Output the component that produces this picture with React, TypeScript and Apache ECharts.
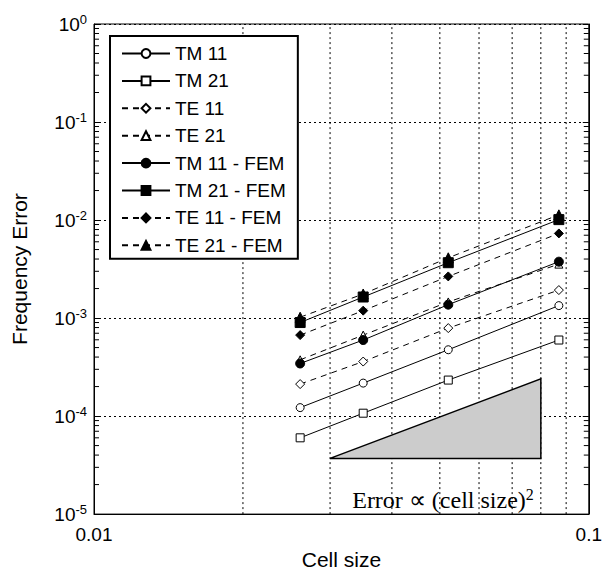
import React, { useEffect, useRef } from "react";
import * as echarts from "echarts";

const cellSizes = [0.0261, 0.035, 0.052, 0.087];
const tm11 = [1.22e-4, 2.17e-4, 4.75e-4, 1.34e-3];
const tm21 = [6.0e-5, 1.07e-4, 2.33e-4, 5.97e-4];
const te11 = [2.12e-4, 3.6e-4, 7.9e-4, 1.93e-3];
const te21 = [3.75e-4, 6.7e-4, 1.46e-3, 3.55e-3];
const tm11Fem = [3.44e-4, 5.97e-4, 1.37e-3, 3.76e-3];
const tm21Fem = [9.0e-4, 1.64e-3, 3.67e-3, 1.01e-2];
const te11Fem = [6.7e-4, 1.19e-3, 2.66e-3, 7.3e-3];
const te21Fem = [1.02e-3, 1.76e-3, 4.12e-3, 1.13e-2];

const seriesNames = [
  "TM 11",
  "TM 21",
  "TE 11",
  "TE 21",
  "TM 11 - FEM",
  "TM 21 - FEM",
  "TE 11 - FEM",
  "TE 21 - FEM",
];

const xGridValues = [0.02, 0.03, 0.04, 0.05, 0.06, 0.07, 0.08, 0.09];
const yDecades = [1e-5, 1e-4, 1e-3, 1e-2, 1e-1];
const yMinorMantissas = [2, 3, 4, 5, 6, 7, 8, 9];

const triX = [0.03, 0.08];
const triY = [3.7e-5, 2.4e-4];

const annotation = "Error \u221D (cell size)";

const SANS = '"Liberation Sans", Arial, sans-serif';
const SERIF = '"Liberation Serif", "Times New Roman", serif';

export default function App() {
  const ref = useRef<HTMLDivElement>(null);

  useEffect(() => {
    document.body.style.margin = "0";
    if (!ref.current) return;
    const chart = echarts.init(ref.current, undefined, { renderer: "svg" });

    const pairs = (ys: number[]) => cellSizes.map((x, i) => [x, ys[i]]);
    const dashed = [6, 5];

    const mk = (
      name: string,
      ys: number[],
      symbol: string,
      size: number,
      filled: boolean,
      dash: boolean
    ) => ({
      name,
      type: "line",
      data: pairs(ys),
      symbol,
      symbolSize: size,
      showSymbol: true,
      lineStyle: { color: "#000", width: 1, type: dash ? dashed : "solid" },
      itemStyle: {
        color: filled ? "#000" : "#fff",
        borderColor: "#000",
        borderWidth: 1,
      },
      z: 5,
    });

    const minorY: number[][] = [];
    yDecades.forEach((d) =>
      yMinorMantissas.forEach((m) => minorY.push([0.05, d * m]))
    );

    const option: any = {
      animation: false,
      backgroundColor: "#fff",
      grid: {
        left: 94,
        top: 24,
        width: 502,
        height: 501,
        show: true,
        borderColor: "#000",
        borderWidth: 1,
        backgroundColor: "transparent",
      },
      legend: {
        data: seriesNames,
        orient: "vertical",
        left: 110,
        top: 36,
        backgroundColor: "#fff",
        borderColor: "#000",
        borderWidth: 2,
        padding: [8, 12, 4, 11],
        itemWidth: 48,
        itemHeight: 11,
        itemGap: 8.4,
        textStyle: {
          fontFamily: SANS,
          fontSize: 19,
          lineHeight: 19,
          color: "#000",
        },
        selectedMode: false,
      },
      xAxis: {
        type: "log",
        logBase: 10,
        min: 0.01,
        max: 0.1,
        name: "Cell size",
        nameLocation: "middle",
        nameGap: 28,
        nameTextStyle: { fontFamily: SANS, fontSize: 21, color: "#000" },
        axisLine: { show: true, lineStyle: { color: "#000", width: 1 } },
        axisTick: { show: false },
        splitLine: { show: false },
        axisLabel: {
          fontFamily: SANS,
          fontSize: 19,
          color: "#000",
          margin: 11,
          formatter: (v: number) => String(+v.toPrecision(3)),
        },
      },
      yAxis: [
        {
          type: "log",
          logBase: 10,
          min: 1e-5,
          max: 1,
          name: "Frequency Error",
          nameLocation: "middle",
          nameGap: 64,
          nameTextStyle: { fontFamily: SANS, fontSize: 21, color: "#000" },
          axisLine: { show: true, lineStyle: { color: "#000", width: 1 } },
          axisTick: { show: true, inside: true, length: 6, lineStyle: { color: "#000" } },
          splitLine: {
            show: true,
            lineStyle: { color: "#000", width: 1, type: [2, 3] },
          },
          axisLabel: {
            margin: 7,
            color: "#000",
            formatter: (v: number) => {
              const e = Math.round(Math.log10(v));
              return "{b|10}{s|" + e + "}";
            },
            rich: {
              b: { fontFamily: SANS, fontSize: 19, color: "#000" },
              s: {
                fontFamily: SANS,
                fontSize: 13,
                color: "#000",
                padding: [0, 0, 9, 0],
              },
            },
          },
        },
        {
          type: "log",
          logBase: 10,
          min: 1e-5,
          max: 1,
          position: "right",
          axisLine: { show: true, lineStyle: { color: "#000", width: 1 } },
          axisTick: { show: true, inside: true, length: 6, lineStyle: { color: "#000" } },
          splitLine: { show: false },
          axisLabel: { show: false },
        },
      ],
      series: [
        {
          name: "xgrid",
          type: "custom",
          silent: true,
          z: 1,
          data: xGridValues.map((v) => [v, 1e-3]),
          renderItem: (_p: any, api: any) => {
            const v = api.value(0);
            const a = api.coord([v, 1e-5]);
            const b = api.coord([v, 1]);
            return {
              type: "line",
              shape: { x1: a[0], y1: a[1], x2: b[0], y2: b[1] },
              style: { stroke: "#000", lineWidth: 1, lineDash: [2, 3] },
            };
          },
        },
        {
          name: "yminor",
          type: "custom",
          silent: true,
          z: 1,
          data: minorY,
          renderItem: (_p: any, api: any) => {
            const v = api.value(1);
            const l = api.coord([0.01, v]);
            const r = api.coord([0.1, v]);
            return {
              type: "group",
              children: [
                {
                  type: "line",
                  shape: { x1: l[0], y1: l[1], x2: l[0] + 5, y2: l[1] },
                  style: { stroke: "#000", lineWidth: 1 },
                },
                {
                  type: "line",
                  shape: { x1: r[0], y1: r[1], x2: r[0] - 5, y2: r[1] },
                  style: { stroke: "#000", lineWidth: 1 },
                },
              ],
            };
          },
        },
        {
          name: "slope",
          type: "custom",
          silent: true,
          z: 3,
          data: [[triX[0], triY[0]]],
          renderItem: (_p: any, api: any) => {
            const p1 = api.coord([triX[0], triY[0]]);
            const p2 = api.coord([triX[1], triY[1]]);
            const p3 = api.coord([triX[1], triY[0]]);
            return {
              type: "polygon",
              shape: { points: [p1, p2, p3] },
              style: { fill: "#cccccc", stroke: "#000", lineWidth: 1.5 },
            };
          },
        },
        mk(seriesNames[0], tm11, "circle", 8, false, false),
        mk(seriesNames[1], tm21, "rect", 8, false, false),
        mk(seriesNames[2], te11, "diamond", 9, false, true),
        mk(seriesNames[3], te21, "triangle", 8, false, true),
        mk(seriesNames[4], tm11Fem, "circle", 9, true, false),
        mk(seriesNames[5], tm21Fem, "rect", 10, true, false),
        mk(seriesNames[6], te11Fem, "diamond", 9, true, true),
        mk(seriesNames[7], te21Fem, "triangle", 10, true, true),
      ],
      graphic: [
        {
          type: "text",
          x: 443,
          y: 500,
          z: 10,
          style: {
            text: annotation + "{s|2}",
            font: "24px " + SERIF,
            fill: "#000",
            align: "center",
            verticalAlign: "middle",
            rich: {
              s: { fontFamily: SERIF, fontSize: 16, padding: [0, 0, 11, 0], fill: "#000" },
            },
          },
        },
      ],
    };

    chart.setOption(option);
    return () => chart.dispose();
  }, []);

  return <div ref={ref} style={{ width: 605, height: 575 }} />;
}
